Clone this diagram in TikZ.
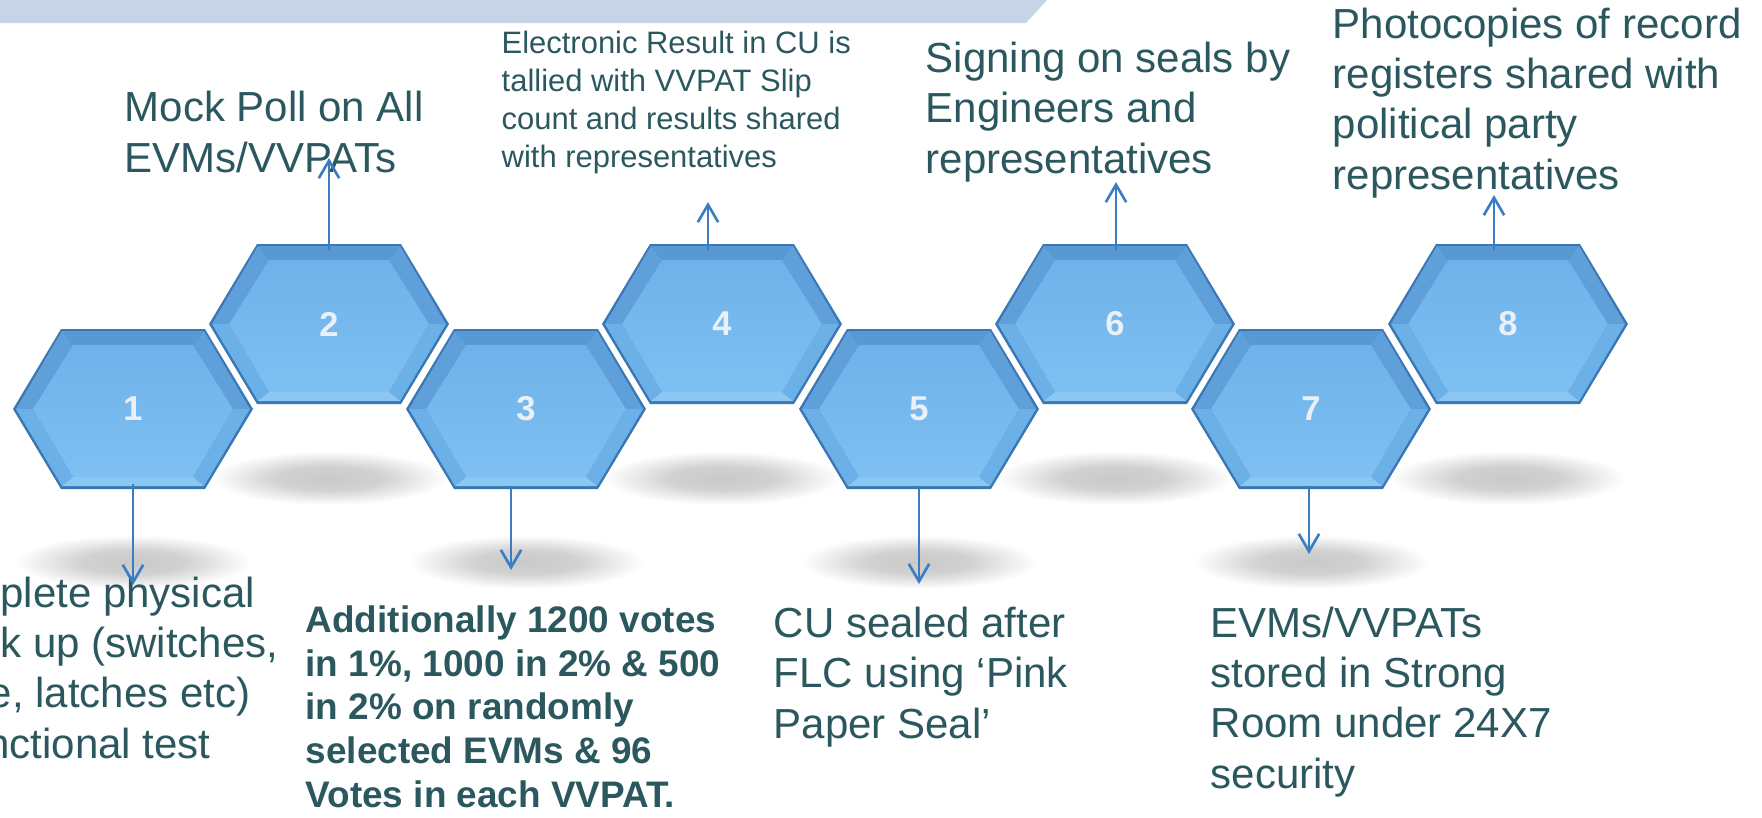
\documentclass[tikz,border=0pt]{standalone}
\usepackage{fontspec}
\setmainfont{Liberation Sans}
\usepackage{xcolor}
\usepackage{tikz}
\usetikzlibrary{arrows.meta}

\definecolor{bannerc}{HTML}{C7D4E7}
\definecolor{textc}{HTML}{2B585E}
\definecolor{arrowc}{HTML}{3A7DC2}
\definecolor{hexface}{HTML}{7EC0F2}
\definecolor{hexfacetop}{HTML}{6FB2EA}
\definecolor{hextop}{HTML}{5898D3}
\definecolor{hexside}{HTML}{5FA0DB}
\definecolor{hexlow}{HTML}{6CB0E8}
\definecolor{hexbottom}{HTML}{8CC7F4}
\definecolor{hexrim}{HTML}{3B77B3}
\definecolor{numc}{HTML}{EAF0F6}

\pgfdeclareradialshading{floorshadow}{\pgfpoint{0bp}{0bp}}{color(0bp)=(black!21); color(11bp)=(black!18); color(25bp)=(white); color(50bp)=(white)}

\begin{document}
\begin{tikzpicture}[
	x=0.01cm, y=-0.01cm,
	every node/.style={inner sep=0pt, text=textc},
	bigtext/.style={anchor=base west, align=left, font=\fontsize{11.95pt}{14.3pt}\selectfont},
	boldtext/.style={anchor=base west, align=left, font=\fontsize{10.5pt}{12.4pt}\selectfont\bfseries},
	smalltext/.style={anchor=base west, align=left, font=\fontsize{8.8pt}{10.8pt}\selectfont},
	numlabel/.style={text=numc, font=\fontsize{9.8pt}{11pt}\selectfont\bfseries},
	flow/.style={->, >={Straight Barb[length=5pt, width=5.8pt]}, draw=arrowc, line width=0.75pt},
	floor/.style={shading=floorshadow},
	hexa/.pic={
		\fill[hexrim] (-120,0) -- (-72,-80) -- (72,-80) -- (120,0) -- (72,80) -- (-72,80) -- cycle;
		\fill[hextop] (-71,-78) -- (71,-78) -- (60,-64) -- (-60,-64) -- cycle;
		\fill[hexside] (-117,0) -- (-71,-78) -- (-60,-64) -- (-100,0) -- cycle;
		\fill[hexside] (117,0) -- (71,-78) -- (60,-64) -- (100,0) -- cycle;
		\fill[hexlow] (-117,0) -- (-100,0) -- (-60,68) -- (-71,77) -- cycle;
		\fill[hexlow] (117,0) -- (100,0) -- (60,68) -- (71,77) -- cycle;
		\fill[hexbottom] (-71,77) -- (-60,68) -- (60,68) -- (71,77) -- cycle;
		\shade[top color=hexfacetop, bottom color=hexface] (-100,0) -- (-60,-64) -- (60,-64) -- (100,0) -- (60,68) -- (-60,68) -- cycle;
	},
]
\useasboundingbox (0,0) rectangle (1762,817);
\clip (0,0) rectangle (1762,817);

\fill[bannerc] (0,0) -- (1047,0) -- (1026,23) -- (0,23) -- cycle;

\shade[floor] (133,562) ellipse (118 and 27);
\shade[floor] (329,478) ellipse (118 and 27);
\shade[floor] (526,562) ellipse (118 and 27);
\shade[floor] (722,478) ellipse (118 and 27);
\shade[floor] (919,562) ellipse (118 and 27);
\shade[floor] (1115,478) ellipse (118 and 27);
\shade[floor] (1311,562) ellipse (118 and 27);
\shade[floor] (1508,478) ellipse (118 and 27);

\pic at (133,409) {hexa};
\pic at (329,324) {hexa};
\pic at (526,409) {hexa};
\pic at (722,324) {hexa};
\pic at (919,409) {hexa};
\pic at (1115,324) {hexa};
\pic at (1311,409) {hexa};
\pic at (1508,324) {hexa};

\node[numlabel] (h1) at (133,409) {1};
\node[numlabel] (h2) at (329,324) {2};
\node[numlabel] (h3) at (526,409) {3};
\node[numlabel] (h4) at (722,324) {4};
\node[numlabel] (h5) at (919,409) {5};
\node[numlabel] (h6) at (1115,324) {6};
\node[numlabel] (h7) at (1311,409) {7};
\node[numlabel] (h8) at (1508,324) {8};

\node[bigtext] (t1) at (-89,758) {Complete physical\\check up (switches,\\cable, latches etc)\\\& functional test};
\node[bigtext] (t2) at (124,172) {Mock Poll on All\\EVMs/VVPATs};
\node[boldtext] (t3) at (305,807) {Additionally 1200 votes\\in 1\%, 1000 in 2\% \& 500\\in 2\% on randomly\\selected EVMs \& 96\\Votes in each VVPAT.};
\node[smalltext] (t4) at (501,167) {Electronic Result in CU is\\tallied with VVPAT Slip\\count and results shared\\with representatives};
\node[bigtext] (t5) at (773,738) {CU sealed after\\FLC using ‘Pink\\Paper Seal’};
\node[bigtext] (t6) at (925,173) {Signing on seals by\\Engineers and\\representatives};
\node[bigtext] (t7) at (1210,788) {EVMs/VVPATs\\stored in Strong\\Room under 24X7\\security};
\node[bigtext] (t8) at (1332,189) {Photocopies of record\\registers shared with\\political party\\representatives};

\coordinate (s1) at (133,484);
\coordinate (e1) at (133,585);
\coordinate (s2) at (329,250);
\coordinate (e2) at (329,158);
\coordinate (s3) at (511,486);
\coordinate (e3) at (511,570);
\coordinate (s4) at (708,250);
\coordinate (e4) at (708,202);
\coordinate (s5) at (919,486);
\coordinate (e5) at (919,584);
\coordinate (s6) at (1116,250);
\coordinate (e6) at (1116,182);
\coordinate (s7) at (1309,486);
\coordinate (e7) at (1309,554);
\coordinate (s8) at (1494,250);
\coordinate (e8) at (1494,195);

\draw[flow] (s1) -- (e1);
\draw[flow] (s2) -- (e2);
\draw[flow] (s3) -- (e3);
\draw[flow] (s4) -- (e4);
\draw[flow] (s5) -- (e5);
\draw[flow] (s6) -- (e6);
\draw[flow] (s7) -- (e7);
\draw[flow] (s8) -- (e8);
\end{tikzpicture}
\end{document}
